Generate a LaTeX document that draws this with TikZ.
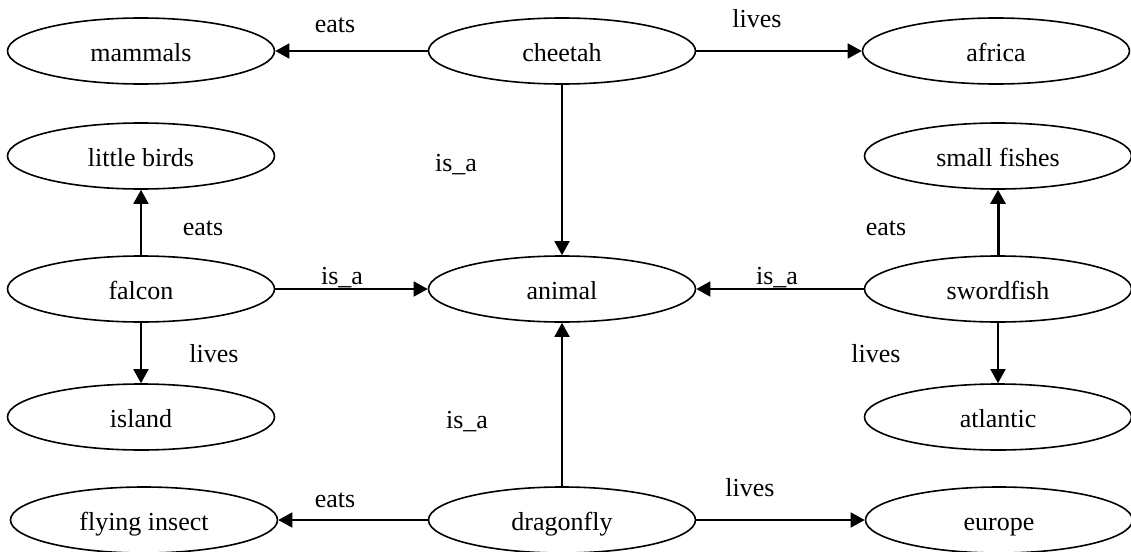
\documentclass[tikz,border=0pt]{standalone}
\usepackage{fontspec}
\setmainfont{Liberation Serif}
\usetikzlibrary{shapes.geometric,arrows.meta}
\begin{document}
\begin{tikzpicture}[x=1pt,y=-1pt,
  concept/.style={ellipse,draw,line width=1.6pt,minimum width=267pt,minimum height=66pt,inner sep=0pt,text height=21pt,text depth=0.5pt,font=\fontsize{26pt}{31pt}\selectfont},
  lbl/.style={anchor=base,inner sep=0pt,font=\fontsize{26pt}{31pt}\selectfont},
  rel/.style={line width=1.7pt,-{Triangle[length=14pt,width=15pt]}},
  thickrel/.style={line width=3pt,-{Triangle[length=14pt,width=15pt]}}]
\path[use as bounding box] (0,0) rectangle (1131,551);
% nodes
\node[concept] (mammals) at (141,51) {mammals};
\node[concept] (cheetah) at (562,51) {cheetah};
\node[concept] (africa) at (996,51) {africa};
\node[concept] (littlebirds) at (141,156) {little birds};
\node[concept] (smallfishes) at (998,156) {small fishes};
\node[concept] (falcon) at (141,289) {falcon};
\node[concept] (animal) at (562,289) {animal};
\node[concept] (swordfish) at (998,289) {swordfish};
\node[concept] (island) at (141,417) {island};
\node[concept] (atlantic) at (998,417) {atlantic};
\node[concept] (flyinginsect) at (144,520) {flying insect};
\node[concept] (dragonfly) at (562,520) {dragonfly};
\node[concept] (europe) at (999,520) {europe};
% connectors
\draw[rel] (cheetah) -- (mammals);
\draw[rel] (cheetah) -- (africa);
\draw[rel] (cheetah) -- (animal);
\draw[rel] (falcon) -- (littlebirds);
\draw[rel] (falcon) -- (animal);
\draw[rel] (falcon) -- (island);
\draw[thickrel] (swordfish) -- (smallfishes);
\draw[rel] (swordfish) -- (animal);
\draw[rel] (swordfish) -- (atlantic);
\draw[rel] (dragonfly) -- (animal);
\draw[rel] (dragonfly) -- (flyinginsect);
\draw[rel] (dragonfly) -- (europe);
% labels
\node[lbl] (l1) at (335,33) {eats};
\node[lbl] (l2) at (757,28) {lives};
\node[lbl] (l3) at (456,171) {is\_a};
\node[lbl] (l4) at (203,235) {eats};
\node[lbl] (l5) at (342,284) {is\_a};
\node[lbl] (l6) at (777,284) {is\_a};
\node[lbl] (l7) at (886,235) {eats};
\node[lbl] (l8) at (214,362) {lives};
\node[lbl] (l9) at (876,362) {lives};
\node[lbl] (l10) at (467,428) {is\_a};
\node[lbl] (l11) at (335,507) {eats};
\node[lbl] (l12) at (750,496) {lives};
\end{tikzpicture}
\end{document}
